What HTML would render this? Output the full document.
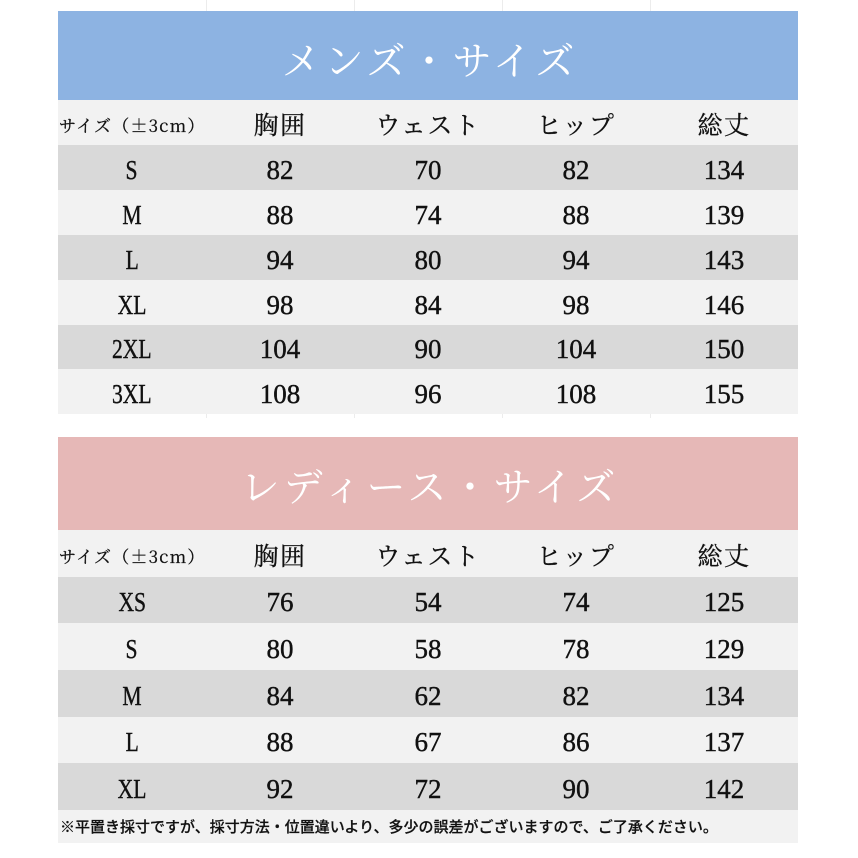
<!DOCTYPE html>
<html>
<head>
<meta charset="utf-8">
<style>
  html,body{margin:0;padding:0;background:#fff;}
  body{width:858px;height:858px;position:relative;overflow:hidden;}
  .band{position:absolute;left:58px;width:740px;display:flex;align-items:center;justify-content:center;
        color:#fff;font-family:"Liberation Serif","Noto Serif CJK SC",serif;font-size:39px;letter-spacing:4px;}
  .row{position:absolute;left:58px;width:740px;display:flex;align-items:center;}
  .row div{width:148px;text-align:center;}
  .d{background:#D9D9D9;}
  .l{background:#F2F2F2;}
  .num{font-family:"Liberation Serif",serif;font-size:27px;color:#111;-webkit-text-stroke:0.4px #111;}
  .num div{padding-top:5px;}
  .num div:first-child span{display:inline-block;transform:scaleX(0.8);}
  .hdr{font-family:"Liberation Serif","Noto Serif CJK SC",serif;font-size:25px;color:#111;letter-spacing:1.5px;-webkit-text-stroke:0.3px #111;}
  .hdr div{padding-top:3px;}
  .hdr .first{font-family:"Noto Serif CJK SC",serif;font-size:17px;letter-spacing:1.2px;text-align:left;padding-left:1px;box-sizing:border-box;white-space:nowrap;-webkit-text-stroke:0.3px #111;}
  .note{position:absolute;left:58px;width:740px;background:#F2F2F2;font-family:"Liberation Sans","Noto Sans CJK JP",sans-serif;
        font-size:15px;font-weight:500;color:#111;display:flex;align-items:center;padding-left:2px;box-sizing:border-box;letter-spacing:0px;white-space:nowrap;-webkit-text-stroke:0.2px #111;}
  .vl{position:absolute;width:1px;background:#ececec;}
</style>
</head>
<body>
  <div class="vl" style="left:206px;top:0;height:11px"></div>
  <div class="vl" style="left:354px;top:0;height:11px"></div>
  <div class="vl" style="left:502px;top:0;height:11px"></div>
  <div class="vl" style="left:650px;top:0;height:11px"></div>

  <div class="band" style="top:11px;height:89px;background:#8DB3E2;"><span style="position:relative;top:3px;left:2px">メンズ・サイズ</span></div>

  <div class="row hdr l" style="top:100px;height:45px;"><div class="first">サイズ（±3cm）</div><div>胸囲</div><div>ウェスト</div><div>ヒップ</div><div>総丈</div></div>
  <div class="row num d" style="top:145px;height:45px;"><div><span>S</span></div><div>82</div><div>70</div><div>82</div><div>134</div></div>
  <div class="row num l" style="top:190px;height:45px;"><div><span>M</span></div><div>88</div><div>74</div><div>88</div><div>139</div></div>
  <div class="row num d" style="top:235px;height:45px;"><div><span>L</span></div><div>94</div><div>80</div><div>94</div><div>143</div></div>
  <div class="row num l" style="top:280px;height:45px;"><div><span>XL</span></div><div>98</div><div>84</div><div>98</div><div>146</div></div>
  <div class="row num d" style="top:325px;height:44px;"><div><span>2XL</span></div><div>104</div><div>90</div><div>104</div><div>150</div></div>
  <div class="row num l" style="top:369px;height:45px;"><div><span>3XL</span></div><div>108</div><div>96</div><div>108</div><div>155</div></div>

  <div class="vl" style="left:206px;top:414px;height:4px"></div>
  <div class="vl" style="left:354px;top:414px;height:4px"></div>
  <div class="vl" style="left:502px;top:414px;height:4px"></div>
  <div class="vl" style="left:650px;top:414px;height:4px"></div>

  <div class="band" style="top:437px;height:93px;background:#E6B8B7;"><span style="position:relative;top:1px;left:2px">レディース・サイズ</span></div>

  <div class="row hdr l" style="top:530px;height:47px;"><div class="first">サイズ（±3cm）</div><div>胸囲</div><div>ウェスト</div><div>ヒップ</div><div>総丈</div></div>
  <div class="row num d" style="top:577px;height:46px;"><div><span>XS</span></div><div>76</div><div>54</div><div>74</div><div>125</div></div>
  <div class="row num l" style="top:623px;height:47px;"><div><span>S</span></div><div>80</div><div>58</div><div>78</div><div>129</div></div>
  <div class="row num d" style="top:670px;height:47px;"><div><span>M</span></div><div>84</div><div>62</div><div>82</div><div>134</div></div>
  <div class="row num l" style="top:717px;height:46px;"><div><span>L</span></div><div>88</div><div>67</div><div>86</div><div>137</div></div>
  <div class="row num d" style="top:763px;height:47px;"><div><span>XL</span></div><div>92</div><div>72</div><div>90</div><div>142</div></div>
  <div class="note" style="top:810px;height:33px;">※平置き採寸ですが、採寸方法・位置違いより、多少の誤差がございますので、ご了承ください。</div>
</body>
</html>
